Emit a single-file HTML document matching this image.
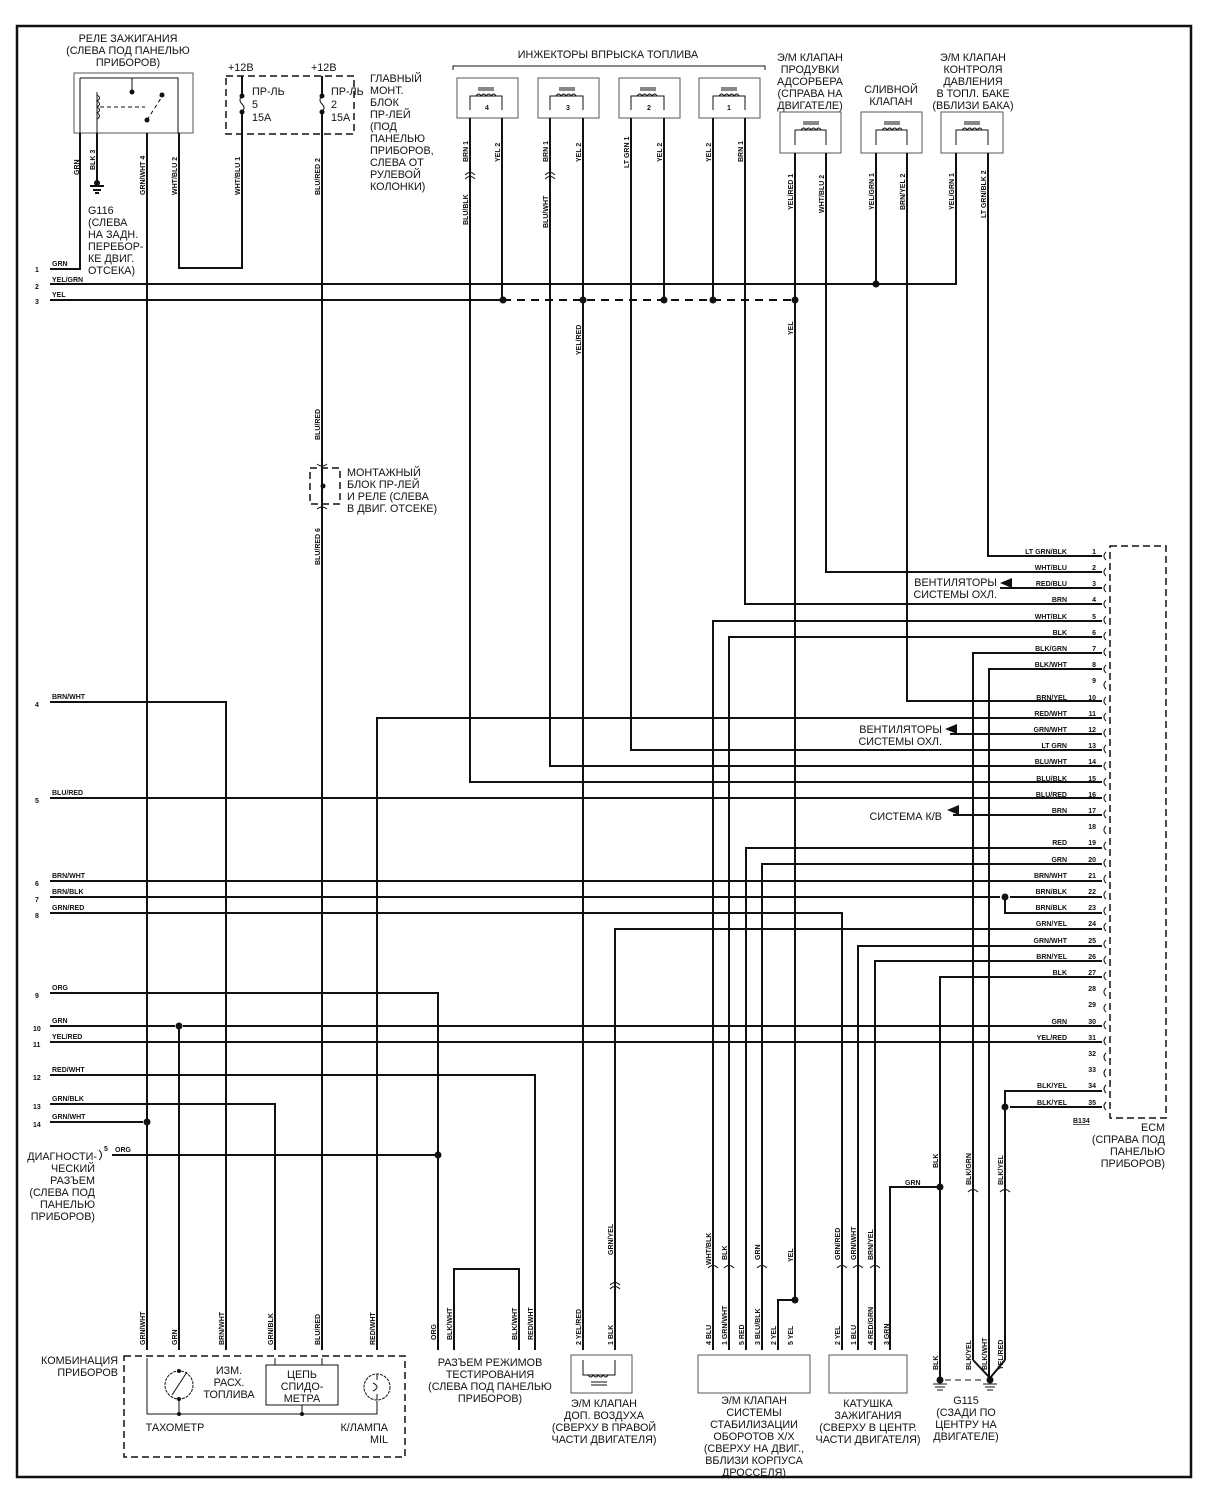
<!DOCTYPE html>
<html><head><meta charset="utf-8"><style>
body{margin:0;background:#fff}
svg{display:block}
text{font-family:"Liberation Sans",sans-serif;fill:#111}
.t{font-size:10.8px}
.s{font-size:7px;font-weight:bold}
.w{stroke:#111;stroke-width:2;fill:none}
.th{stroke:#111;stroke-width:1;fill:none}
.d{stroke:#111;stroke-width:1.5;fill:none;stroke-dasharray:7 4}
.g{stroke:#555;stroke-width:1;fill:none}
</style></head><body>
<svg width="1216" height="1500" viewBox="0 0 1216 1500" xmlns="http://www.w3.org/2000/svg">
<rect x="17" y="26" width="1174" height="1451" fill="none" stroke="#111" stroke-width="2.5"/>

<!-- Relay -->
<g text-anchor="middle" class="t"><text x="128" y="42">РЕЛЕ ЗАЖИГАНИЯ</text><text x="128" y="54">(СЛЕВА ПОД ПАНЕЛЬЮ</text><text x="128" y="66">ПРИБОРОВ)</text></g>
<rect x="74" y="73" width="119" height="60" class="g"/>
<path class="th" d="M80 78V133 M80 78H178V133 M97 92V133 M132 90V78"/>
<path class="th" d="M97 95q5 3 0 6q5 3 0 6q5 3 0 6q5 3 0 6" />
<circle cx="132" cy="92" r="2.5" fill="#111"/><circle cx="162" cy="95" r="2.5" fill="#111"/><circle cx="147" cy="120" r="2.5" fill="#111"/>
<path class="th" d="M147 120L163 95 M100 107H145" stroke-dasharray="4 3"/>
<path class="w" d="M80 133V269H50 M97 133V183 M147 133V1350 M179 133V268H242V133"/>
<path d="M90 186h14M93 190h8M95 193h4" stroke="#111" stroke-width="2"/><circle cx="97" cy="183" r="3" fill="#111"/>
<g class="t"><text x="88" y="214">G116</text><text x="88" y="226">(СЛЕВА</text><text x="88" y="238">НА ЗАДН.</text><text x="88" y="250">ПЕРЕБОР-</text><text x="88" y="262">КЕ ДВИГ.</text><text x="88" y="274">ОТСЕКА)</text></g>

<!-- Fuse box -->
<rect x="226" y="76" width="128" height="58" class="d" stroke-width="1.3"/>
<text x="228" y="71" class="t">+12В</text><text x="311" y="71" class="t">+12В</text>
<path class="w" d="M242 76V96 M242 112V133 M322 76V96 M322 112V133"/>
<path class="th" stroke-width="1.5" d="M242 96q-4 4 0 8q4 4 0 8 M322 96q-4 4 0 8q4 4 0 8"/>
<g fill="#111"><circle cx="242" cy="96" r="2.5"/><circle cx="242" cy="112" r="2.5"/><circle cx="322" cy="96" r="2.5"/><circle cx="322" cy="112" r="2.5"/></g>
<g class="t"><text x="252" y="95">ПР-ЛЬ</text><text x="252" y="108">5</text><text x="252" y="121">15А</text><text x="331" y="95">ПР-ЛЬ</text><text x="331" y="108">2</text><text x="331" y="121">15А</text>
<text x="370" y="82">ГЛАВНЫЙ</text><text x="370" y="94">МОНТ.</text><text x="370" y="106">БЛОК</text><text x="370" y="118">ПР-ЛЕЙ</text><text x="370" y="130">(ПОД</text><text x="370" y="142">ПАНЕЛЬЮ</text><text x="370" y="154">ПРИБОРОВ,</text><text x="370" y="166">СЛЕВА ОТ</text><text x="370" y="178">РУЛЕВОЙ</text><text x="370" y="190">КОЛОНКИ)</text></g>
<path class="w" d="M322 133V1350"/>
<!-- relay block 2 -->
<rect x="310" y="468" width="30" height="36" class="d" stroke-width="1.3"/>
<circle cx="323" cy="486" r="2.5" fill="#111"/>
<g class="t"><text x="347" y="476">МОНТАЖНЫЙ</text><text x="347" y="488">БЛОК ПР-ЛЕЙ</text><text x="347" y="500">И РЕЛЕ (СЛЕВА</text><text x="347" y="512">В ДВИГ. ОТСЕКЕ)</text></g>

<!-- Injectors -->
<text x="608" y="58" class="t" text-anchor="middle">ИНЖЕКТОРЫ ВПРЫСКА ТОПЛИВА</text>
<path class="th" d="M453 70V66H765V70"/>
<g class="g"><rect x="457" y="78" width="61" height="40"/><rect x="538" y="78" width="61" height="40"/><rect x="619" y="78" width="61" height="40"/><rect x="699" y="78" width="61" height="40"/>
<rect x="780" y="112" width="61" height="41"/><rect x="861" y="112" width="61" height="41"/><rect x="941" y="112" width="62" height="41"/></g>
<g class="s" text-anchor="middle"><text x="487" y="110">4</text><text x="568" y="110">3</text><text x="649" y="110">2</text><text x="729" y="110">1</text></g>
<g class="t" text-anchor="middle"><text x="810" y="61">Э/М КЛАПАН</text><text x="810" y="73">ПРОДУВКИ</text><text x="810" y="85">АДСОРБЕРА</text><text x="810" y="97">(СПРАВА НА</text><text x="810" y="109">ДВИГАТЕЛЕ)</text>
<text x="891" y="93">СЛИВНОЙ</text><text x="891" y="105">КЛАПАН</text>
<text x="973" y="61">Э/М КЛАПАН</text><text x="973" y="73">КОНТРОЛЯ</text><text x="973" y="85">ДАВЛЕНИЯ</text><text x="973" y="97">В ТОПЛ. БАКЕ</text><text x="973" y="109">(ВБЛИЗИ БАКА)</text></g>
<path class="th" d="M470 110V96H502V110M476 96q3-4 5 0q3-4 5 0q3-4 5 0q3-4 5 0M478 90h16M478 88h16
M550 110V96H583V110M556 96q3-4 5 0q3-4 5 0q3-4 5 0q3-4 5 0M559 90h16M559 88h16
M631 110V96H664V110M637 96q3-4 5 0q3-4 5 0q3-4 5 0q3-4 5 0M640 90h16M640 88h16
M713 110V96H745V110M719 96q3-4 5 0q3-4 5 0q3-4 5 0q3-4 5 0M721 90h16M721 88h16
M795 145V130H826V145M801 130q3-4 5 0q3-4 5 0q3-4 5 0q3-4 5 0M803 124h16M803 122h16
M876 145V130H907V145M882 130q3-4 5 0q3-4 5 0q3-4 5 0q3-4 5 0M884 124h16M884 122h16
M956 145V130H988V145M962 130q3-4 5 0q3-4 5 0q3-4 5 0q3-4 5 0M964 124h16M964 122h16"/>

<!-- Bus lines -->
<g class="s"><text x="35" y="272">1</text><text x="35" y="289">2</text><text x="35" y="304">3</text>
<text x="52" y="266">GRN</text><text x="52" y="282">YEL/GRN</text><text x="52" y="297">YEL</text></g>
<path class="w" d="M50 284H956V153 M50 300H503 M876 153V284"/>
<path class="w" d="M503 300H795" stroke-dasharray="8 6"/>
<g fill="#111"><circle cx="503" cy="300" r="3.5"/><circle cx="583" cy="300" r="3.5"/><circle cx="664" cy="300" r="3.5"/><circle cx="713" cy="300" r="3.5"/><circle cx="795" cy="300" r="3.5"/><circle cx="876" cy="284" r="3.5"/></g>
<path class="w" d="M502 118V300 M583 118V1350 M664 118V300 M713 118V300 M795 153V1300 M778 1350V1300H795"/>
<circle cx="795" cy="1300" r="3.5" fill="#111"/>

<!-- ECM -->
<rect x="1110" y="546" width="56" height="572" class="d" stroke-width="1.5"/>
<g class="t" text-anchor="end"><text x="1165" y="1131">ECM</text><text x="1165" y="1143">(СПРАВА ПОД</text><text x="1165" y="1155">ПАНЕЛЬЮ</text><text x="1165" y="1167">ПРИБОРОВ)</text></g>
<text x="1073" y="1123" class="s" text-decoration="underline">B134</text>
<g class="s" text-anchor="end">
<text x="1067" y="554">LT GRN/BLK</text><text x="1096" y="554">1</text>
<text x="1067" y="570">WHT/BLU</text><text x="1096" y="570">2</text>
<text x="1067" y="586">RED/BLU</text><text x="1096" y="586">3</text>
<text x="1067" y="602">BRN</text><text x="1096" y="602">4</text>
<text x="1067" y="619">WHT/BLK</text><text x="1096" y="619">5</text>
<text x="1067" y="635">BLK</text><text x="1096" y="635">6</text>
<text x="1067" y="651">BLK/GRN</text><text x="1096" y="651">7</text>
<text x="1067" y="667">BLK/WHT</text><text x="1096" y="667">8</text>
<text x="1096" y="683">9</text>
<text x="1067" y="700">BRN/YEL</text><text x="1096" y="700">10</text>
<text x="1067" y="716">RED/WHT</text><text x="1096" y="716">11</text>
<text x="1067" y="732">GRN/WHT</text><text x="1096" y="732">12</text>
<text x="1067" y="748">LT GRN</text><text x="1096" y="748">13</text>
<text x="1067" y="764">BLU/WHT</text><text x="1096" y="764">14</text>
<text x="1067" y="781">BLU/BLK</text><text x="1096" y="781">15</text>
<text x="1067" y="797">BLU/RED</text><text x="1096" y="797">16</text>
<text x="1067" y="813">BRN</text><text x="1096" y="813">17</text>
<text x="1096" y="829">18</text>
<text x="1067" y="845">RED</text><text x="1096" y="845">19</text>
<text x="1067" y="862">GRN</text><text x="1096" y="862">20</text>
<text x="1067" y="878">BRN/WHT</text><text x="1096" y="878">21</text>
<text x="1067" y="894">BRN/BLK</text><text x="1096" y="894">22</text>
<text x="1067" y="910">BRN/BLK</text><text x="1096" y="910">23</text>
<text x="1067" y="926">GRN/YEL</text><text x="1096" y="926">24</text>
<text x="1067" y="943">GRN/WHT</text><text x="1096" y="943">25</text>
<text x="1067" y="959">BRN/YEL</text><text x="1096" y="959">26</text>
<text x="1067" y="975">BLK</text><text x="1096" y="975">27</text>
<text x="1096" y="991">28</text><text x="1096" y="1007">29</text>
<text x="1067" y="1024">GRN</text><text x="1096" y="1024">30</text>
<text x="1067" y="1040">YEL/RED</text><text x="1096" y="1040">31</text>
<text x="1096" y="1056">32</text><text x="1096" y="1072">33</text>
<text x="1067" y="1088">BLK/YEL</text><text x="1096" y="1088">34</text>
<text x="1067" y="1105">BLK/YEL</text><text x="1096" y="1105">35</text>
</g>
<path class="th" d="M1106 552q-4 4 0 8M1106 568q-4 4 0 8M1106 584q-4 4 0 8M1106 600q-4 4 0 8M1106 616q-4 4 0 8M1106 632q-4 4 0 8M1106 648q-4 4 0 8M1106 665q-4 4 0 8M1106 681q-4 4 0 8M1106 697q-4 4 0 8M1106 713q-4 4 0 8M1106 729q-4 4 0 8M1106 745q-4 4 0 8M1106 762q-4 4 0 8M1106 778q-4 4 0 8M1106 794q-4 4 0 8M1106 810q-4 4 0 8M1106 826q-4 4 0 8M1106 842q-4 4 0 8M1106 859q-4 4 0 8M1106 875q-4 4 0 8M1106 891q-4 4 0 8M1106 907q-4 4 0 8M1106 923q-4 4 0 8M1106 940q-4 4 0 8M1106 956q-4 4 0 8M1106 972q-4 4 0 8M1106 988q-4 4 0 8M1106 1004q-4 4 0 8M1106 1021q-4 4 0 8M1106 1037q-4 4 0 8M1106 1053q-4 4 0 8M1106 1069q-4 4 0 8M1106 1085q-4 4 0 8M1106 1102q-4 4 0 8"/>

<g class="w">
<path d="M988 153V556H1102"/>
<path d="M826 153V572H1102"/>
<path d="M1000 588H1102"/>
<path d="M745 118V604H1102"/>
<path d="M713 1350V621H1102"/>
<path d="M729 1350V637H1102"/>
<path d="M973 1360V653H1102"/>
<path d="M989 1360V669H1102"/>
<path d="M907 153V701H1102"/>
<path d="M377 1350V718H1102"/>
<path d="M950 734H1102"/>
<path d="M631 118V750H1102"/>
<path d="M550 118V766H1102"/>
<path d="M470 118V782H1102"/>
<path d="M50 798H1102"/>
<path d="M953 815H1102"/>
<path d="M746 1350V848H1102"/>
<path d="M762 1350V864H1102"/>
<path d="M50 881H1102"/>
<path d="M50 897H1000M1010 897H1102"/>
<path d="M1005 897V913H1102"/>
<path d="M50 913H842V1350"/>
<path d="M615 1350V929H1102"/>
<path d="M858 1350V946H1102"/>
<path d="M875 1350V961H1102"/>
<path d="M940 1380V977H1102"/>
<path d="M50 1026H175M183 1026H1102"/>
<path d="M50 1042H1102"/>
<path d="M1005 1107V1091H1102"/>
<path d="M1010 1107H1102M1005 1107V1360"/>
<path d="M50 702H226V1350"/>
<path d="M50 993H438V1350"/>
<path d="M179 1026V1350"/>
<path d="M50 1075H535V1350"/>
<path d="M50 1104H275V1350"/>
<path d="M50 1122H143"/>
<path d="M112 1155H438"/>
<path d="M454 1350V1269H519V1350"/>
<path d="M940 1187H890V1350"/>
<path d="M973 1360L990 1378M1005 1360L990 1378M989 1360V1378"/>
</g>
<g fill="#111"><circle cx="1005" cy="897" r="3.5"/><circle cx="1005" cy="1107" r="3.5"/><circle cx="179" cy="1026" r="3.5"/><circle cx="147" cy="1122" r="3.5"/><circle cx="438" cy="1155" r="3.5"/><circle cx="940" cy="1187" r="3.5"/>
<path d="M1000 583l12-5v10z"/><path d="M945 729l12-5v10z"/><path d="M947 810l12-5v10z"/></g>
<g class="t" text-anchor="end"><text x="997" y="586">ВЕНТИЛЯТОРЫ</text><text x="997" y="598">СИСТЕМЫ ОХЛ.</text>
<text x="942" y="733">ВЕНТИЛЯТОРЫ</text><text x="942" y="745">СИСТЕМЫ ОХЛ.</text><text x="942" y="820">СИСТЕМА К/В</text></g>

<g class="s"><text x="35" y="707">4</text><text x="52" y="699">BRN/WHT</text>
<text x="35" y="803">5</text><text x="52" y="795">BLU/RED</text>
<text x="35" y="886">6</text><text x="52" y="878">BRN/WHT</text>
<text x="35" y="902">7</text><text x="52" y="894">BRN/BLK</text>
<text x="35" y="918">8</text><text x="52" y="910">GRN/RED</text>
<text x="35" y="998">9</text><text x="52" y="990">ORG</text>
<text x="33" y="1031">10</text><text x="52" y="1023">GRN</text>
<text x="33" y="1047">11</text><text x="52" y="1039">YEL/RED</text>
<text x="33" y="1080">12</text><text x="52" y="1072">RED/WHT</text>
<text x="33" y="1109">13</text><text x="52" y="1101">GRN/BLK</text>
<text x="33" y="1127">14</text><text x="52" y="1119">GRN/WHT</text>
<text x="104" y="1151">5</text><text x="115" y="1152">ORG</text></g>
<g class="t" text-anchor="end"><text x="97" y="1160">ДИАГНОСТИ-</text><text x="95" y="1172">ЧЕСКИЙ</text><text x="95" y="1184">РАЗЪЕМ</text><text x="95" y="1196">(СЛЕВА ПОД</text><text x="95" y="1208">ПАНЕЛЬЮ</text><text x="95" y="1220">ПРИБОРОВ)</text></g>
<path class="th" d="M99 1150q5 5 0 10"/>

<!-- Instrument cluster -->
<rect x="124" y="1356" width="281" height="101" class="d" stroke-width="1.3"/>
<g class="t" text-anchor="end"><text x="118" y="1364">КОМБИНАЦИЯ</text><text x="118" y="1376">ПРИБОРОВ</text></g>
<path class="th" d="M147 1358V1414H377V1401 M179 1399V1414 M302 1405V1414"/>
<circle cx="179" cy="1385" r="14" class="th" stroke-dasharray="3 1"/><path class="th" d="M172 1395L187 1372"/>
<circle cx="179" cy="1371" r="2" fill="#111"/><circle cx="179" cy="1399" r="2" fill="#111"/>
<rect x="266" y="1365" width="72" height="40" class="th"/>
<path class="th" d="M275 1358V1365M322 1358V1365"/>
<circle cx="377" cy="1387" r="13" class="th" stroke-dasharray="3 1"/>
<path class="th" d="M377 1374V1380M377 1394V1400M373 1383q8 4 0 8"/>
<circle cx="302" cy="1414" r="2" fill="#111"/><circle cx="179" cy="1414" r="2" fill="#111"/>
<g class="t" text-anchor="middle"><text x="229" y="1374">ИЗМ.</text><text x="229" y="1386">РАСХ.</text><text x="229" y="1398">ТОПЛИВА</text>
<text x="302" y="1378">ЦЕПЬ</text><text x="302" y="1390">СПИДО-</text><text x="302" y="1402">МЕТРА</text>
<text x="175" y="1431">ТАХОМЕТР</text></g>
<g class="t" text-anchor="end"><text x="388" y="1431">К/ЛАМПА</text><text x="388" y="1443">MIL</text></g>

<g class="t" text-anchor="middle"><text x="490" y="1366">РАЗЪЕМ РЕЖИМОВ</text><text x="490" y="1378">ТЕСТИРОВАНИЯ</text><text x="490" y="1390">(СЛЕВА ПОД ПАНЕЛЬЮ</text><text x="490" y="1402">ПРИБОРОВ)</text></g>
<rect x="571" y="1355" width="61" height="38" class="g"/>
<path class="th" d="M583 1360V1375H615V1360M588 1375q3 4 5 0q3 4 5 0q3 4 5 0q3 4 5 0M591 1382h16M591 1385h16"/>
<g class="t" text-anchor="middle"><text x="604" y="1407">Э/М КЛАПАН</text><text x="604" y="1419">ДОП. ВОЗДУХА</text><text x="604" y="1431">(СВЕРХУ В ПРАВОЙ</text><text x="604" y="1443">ЧАСТИ ДВИГАТЕЛЯ)</text></g>
<rect x="698" y="1355" width="112" height="38" class="g"/>
<g class="t" text-anchor="middle"><text x="754" y="1404">Э/М КЛАПАН</text><text x="754" y="1416">СИСТЕМЫ</text><text x="754" y="1428">СТАБИЛИЗАЦИИ</text><text x="754" y="1440">ОБОРОТОВ Х/Х</text><text x="754" y="1452">(СВЕРХУ НА ДВИГ.,</text><text x="754" y="1464">ВБЛИЗИ КОРПУСА</text><text x="754" y="1476">ДРОССЕЛЯ)</text></g>
<rect x="829" y="1355" width="78" height="38" class="g"/>
<g class="t" text-anchor="middle"><text x="868" y="1407">КАТУШКА</text><text x="868" y="1419">ЗАЖИГАНИЯ</text><text x="868" y="1431">(СВЕРХУ В ЦЕНТР.</text><text x="868" y="1443">ЧАСТИ ДВИГАТЕЛЯ)</text></g>
<path class="th" d="M933 1384h14M935 1387h10M937 1390h6M983 1384h14M985 1387h10M987 1390h6"/>
<path class="th" d="M945 1380H985" stroke-dasharray="6 4"/>
<circle cx="940" cy="1380" r="3.5" fill="#111"/><circle cx="990" cy="1380" r="3.5" fill="#111"/>
<g class="t" text-anchor="middle"><text x="966" y="1404">G115</text><text x="966" y="1416">(СЗАДИ ПО</text><text x="966" y="1428">ЦЕНТРУ НА</text><text x="966" y="1440">ДВИГАТЕЛЕ)</text></g>
<text x="905" y="1185" class="s">GRN</text>

<g class="s">
<text transform="translate(79,175) rotate(-90)">GRN</text>
<text transform="translate(95,170) rotate(-90)">BLK 3</text>
<text transform="translate(145,195) rotate(-90)">GRN/WHT 4</text>
<text transform="translate(177,195) rotate(-90)">WHT/BLU 2</text>
<text transform="translate(240,195) rotate(-90)">WHT/BLU 1</text>
<text transform="translate(320,195) rotate(-90)">BLU/RED 2</text>
<text transform="translate(320,440) rotate(-90)">BLU/RED</text>
<text transform="translate(320,565) rotate(-90)">BLU/RED 6</text>
<text transform="translate(468,162) rotate(-90)">BRN 1</text>
<text transform="translate(468,225) rotate(-90)">BLU/BLK</text>
<text transform="translate(500,162) rotate(-90)">YEL 2</text>
<text transform="translate(548,162) rotate(-90)">BRN 1</text>
<text transform="translate(548,228) rotate(-90)">BLU/WHT</text>
<text transform="translate(581,162) rotate(-90)">YEL 2</text>
<text transform="translate(581,355) rotate(-90)">YEL/RED</text>
<text transform="translate(629,168) rotate(-90)">LT GRN 1</text>
<text transform="translate(662,162) rotate(-90)">YEL 2</text>
<text transform="translate(711,162) rotate(-90)">YEL 2</text>
<text transform="translate(743,162) rotate(-90)">BRN 1</text>
<text transform="translate(793,210) rotate(-90)">YEL/RED 1</text>
<text transform="translate(793,335) rotate(-90)">YEL</text>
<text transform="translate(824,213) rotate(-90)">WHT/BLU 2</text>
<text transform="translate(874,210) rotate(-90)">YEL/GRN 1</text>
<text transform="translate(905,210) rotate(-90)">BRN/YEL 2</text>
<text transform="translate(954,210) rotate(-90)">YEL/GRN 1</text>
<text transform="translate(986,218) rotate(-90)">LT GRN/BLK 2</text>
<text transform="translate(145,1345) rotate(-90)">GRN/WHT</text>
<text transform="translate(177,1345) rotate(-90)">GRN</text>
<text transform="translate(224,1345) rotate(-90)">BRN/WHT</text>
<text transform="translate(273,1345) rotate(-90)">GRN/BLK</text>
<text transform="translate(320,1345) rotate(-90)">BLU/RED</text>
<text transform="translate(375,1345) rotate(-90)">RED/WHT</text>
<text transform="translate(436,1340) rotate(-90)">ORG</text>
<text transform="translate(452,1340) rotate(-90)">BLK/WHT</text>
<text transform="translate(517,1340) rotate(-90)">BLK/WHT</text>
<text transform="translate(533,1340) rotate(-90)">RED/WHT</text>
<text transform="translate(581,1345) rotate(-90)">2 YEL/RED</text>
<text transform="translate(613,1345) rotate(-90)">1 BLK</text>
<text transform="translate(613,1255) rotate(-90)">GRN/YEL</text>
<text transform="translate(711,1345) rotate(-90)">4 BLU</text>
<text transform="translate(711,1265) rotate(-90)">WHT/BLK</text>
<text transform="translate(727,1345) rotate(-90)">1 GRN/WHT</text>
<text transform="translate(727,1260) rotate(-90)">BLK</text>
<text transform="translate(744,1345) rotate(-90)">5 RED</text>
<text transform="translate(760,1345) rotate(-90)">3 BLU/BLK</text>
<text transform="translate(760,1260) rotate(-90)">GRN</text>
<text transform="translate(776,1345) rotate(-90)">2 YEL</text>
<text transform="translate(793,1345) rotate(-90)">5 YEL</text>
<text transform="translate(793,1262) rotate(-90)">YEL</text>
<text transform="translate(840,1345) rotate(-90)">2 YEL</text>
<text transform="translate(840,1260) rotate(-90)">GRN/RED</text>
<text transform="translate(856,1345) rotate(-90)">1 BLU</text>
<text transform="translate(856,1260) rotate(-90)">GRN/WHT</text>
<text transform="translate(873,1345) rotate(-90)">4 RED/GRN</text>
<text transform="translate(873,1260) rotate(-90)">BRN/YEL</text>
<text transform="translate(889,1345) rotate(-90)">3 GRN</text>
<text transform="translate(938,1370) rotate(-90)">BLK</text>
<text transform="translate(938,1168) rotate(-90)">BLK</text>
<text transform="translate(971,1370) rotate(-90)">BLK/YEL</text>
<text transform="translate(971,1185) rotate(-90)">BLK/GRN</text>
<text transform="translate(987,1370) rotate(-90)">BLK/WHT</text>
<text transform="translate(1003,1370) rotate(-90)">YEL/RED</text>
<text transform="translate(1003,1185) rotate(-90)">BLK/YEL</text>
</g>
<path class="th" d="M465 175q5-5 10 0M465 179q5-5 10 0M545 175q5-5 10 0M545 179q5-5 10 0M610 1285q5-5 10 0M610 1289q5-5 10 0
M708 1268q5-5 10 0M724 1268q5-5 10 0M757 1268q5-5 10 0M837 1268q5-5 10 0M853 1268q5-5 10 0M870 1268q5-5 10 0M968 1192q5-5 10 0M1000 1192q5-5 10 0
M317 464q5 4 10 0M317 509q5-4 10 0"/>
</svg>
</body></html>
